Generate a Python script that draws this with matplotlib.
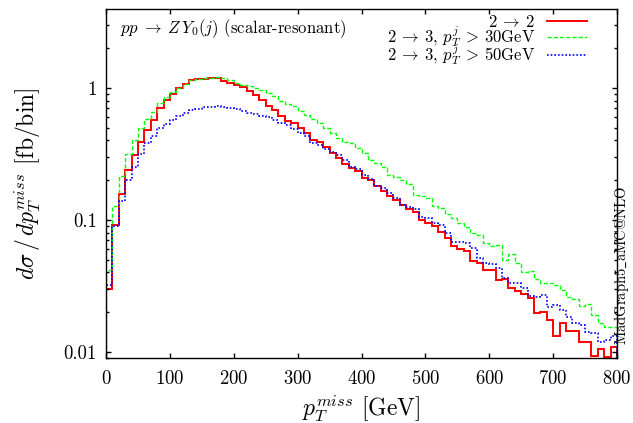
import numpy as np
import matplotlib
matplotlib.use('Agg')
import matplotlib.pyplot as plt
from matplotlib.ticker import LogLocator, NullFormatter

plt.rcParams['font.family'] = 'serif'
plt.rcParams['font.serif'] = ['cmr10', 'DejaVu Serif']
plt.rcParams['mathtext.fontset'] = 'cm'
plt.rcParams['axes.formatter.use_mathtext'] = True

# bin edges, 10 GeV bins
edges = np.arange(0, 810, 10)

# 2 -> 2
red_vals = [0.030, 0.091, 0.157, 0.239, 0.311, 0.388, 0.481, 0.572, 0.702, 0.811,
            0.901, 0.994, 1.072, 1.150, 1.163, 1.177, 1.184, 1.200, 1.137, 1.085,
            1.054, 1.012, 0.955, 0.880, 0.811, 0.731, 0.681, 0.617, 0.562, 0.540,
            0.495, 0.453, 0.404, 0.392, 0.359, 0.320, 0.293, 0.266, 0.246, 0.235,
            0.207, 0.200, 0.180, 0.165, 0.152, 0.142, 0.130, 0.121, 0.114, 0.099,
            0.094, 0.090, 0.0806, 0.0735, 0.0635, 0.0606, 0.0586, 0.0492, 0.0475, 0.0418,
            0.0418, 0.0351, 0.0355, 0.0304, 0.0291, 0.0273, 0.0255, 0.0196, 0.0201, 0.0175,
            0.0132, 0.0165, 0.0143, 0.0145, 0.0118, 0.0118, 0.0093, 0.0105, 0.0091, 0.0108]

# 2 -> 3, pTj > 30 GeV
green_vals = [0.042, 0.128, 0.217, 0.315, 0.404, 0.500, 0.579, 0.662, 0.766, 0.850,
              0.927, 1.000, 1.070, 1.140, 1.160, 1.190, 1.200, 1.215, 1.200, 1.150,
              1.100, 1.055, 1.037, 0.994, 0.966, 0.911, 0.870, 0.800, 0.750, 0.731,
              0.674, 0.624, 0.579, 0.540, 0.495, 0.459, 0.416, 0.392, 0.381, 0.349,
              0.320, 0.285, 0.272, 0.251, 0.219, 0.210, 0.199, 0.187, 0.155, 0.152,
              0.146, 0.128, 0.124, 0.110, 0.103, 0.0954, 0.089, 0.0802, 0.077, 0.0673,
              0.0635, 0.0646, 0.0498, 0.0553, 0.047, 0.0406, 0.0411, 0.0355, 0.0331, 0.0335,
              0.0322, 0.0295, 0.0262, 0.0251, 0.0223, 0.0230, 0.0191, 0.0165, 0.0154, 0.0154]

# 2 -> 3, pTj > 50 GeV
blue_vals = [0.032, 0.090, 0.138, 0.201, 0.254, 0.316, 0.381, 0.433, 0.495, 0.534,
             0.573, 0.614, 0.650, 0.680, 0.697, 0.714, 0.720, 0.725, 0.714, 0.702,
             0.690, 0.665, 0.646, 0.630, 0.614, 0.600, 0.575, 0.546, 0.524, 0.486,
             0.453, 0.435, 0.385, 0.370, 0.343, 0.329, 0.311, 0.285, 0.251, 0.242,
             0.219, 0.203, 0.181, 0.175, 0.159, 0.146, 0.130, 0.1247, 0.120, 0.106,
             0.104, 0.0955, 0.0917, 0.0802, 0.0685, 0.0685, 0.0673, 0.061, 0.0512, 0.047,
             0.0464, 0.0430, 0.0361, 0.0335, 0.0331, 0.0304, 0.0266, 0.0262, 0.0270, 0.0218,
             0.0227, 0.0206, 0.0185, 0.0165, 0.0160, 0.0141, 0.0140, 0.0118, 0.0123, 0.0132]

labels = [r'$2\:\rightarrow\:2$',
          r'$2\:\rightarrow\:3,\,p_T^j\:>\:30{\rm GeV}$',
          r'$2\:\rightarrow\:3,\,p_T^j\:>\:50{\rm GeV}$']

ymin, ymax = 0.0089, 3.97

fig = plt.figure(figsize=(6.33, 4.23), dpi=100)
ax = fig.add_axes([0.1675, 0.1525, 0.8073, 0.8262])

ax.stairs(red_vals, edges, baseline=1e-4, color='#ff0000', lw=1.4, label=labels[0])
ax.stairs(green_vals, edges, baseline=1e-4, color='#00ff00', lw=1.0,
          linestyle=(0, (3, 1.5)), label=labels[1])
ax.stairs(blue_vals, edges, baseline=1e-4, color='#0000ff', lw=1.2,
          linestyle=(0, (1, 1.2)), label=labels[2])

ax.set_yscale('log')
ax.set_xlim(0, 800)
ax.set_ylim(ymin, ymax)
ax.set_xticks(np.arange(0, 900, 100))
ax.set_yticks([0.01, 0.1, 1])
ax.set_yticklabels(['0.01', '0.1', '1'])
ax.yaxis.set_minor_locator(LogLocator(base=10, subs=np.arange(2, 10)))
ax.yaxis.set_minor_formatter(NullFormatter())
ax.tick_params(which='both', direction='in', top=True, right=True, width=1.0)
ax.tick_params(which='major', length=3.6, labelsize=13.5)
ax.tick_params(which='minor', length=2.2)
ax.tick_params(axis='x', pad=8)
ax.tick_params(axis='y', pad=6.5)
for s in ax.spines.values():
    s.set_linewidth(1.0)

ax.set_xlabel(r'$p_T^{miss}$ [GeV]', fontsize=17, labelpad=4)
ax.set_ylabel(r'$d\sigma\,/\,dp_T^{miss}$ [fb/bin]', fontsize=17)
ax.yaxis.set_label_coords(-0.123, 0.5)

ax.text(0.0274, 0.931, r'$pp\;\rightarrow\;Z\,Y_0(j)$ (scalar-resonant)',
        transform=ax.transAxes, fontsize=12, va='baseline', ha='left')

ax.legend(loc='upper right', bbox_to_anchor=(0.9413, 0.9857), frameon=False,
          fontsize=12, markerfirst=False, handlelength=2.4, handletextpad=0.72,
          labelspacing=-0.38, borderpad=0, borderaxespad=0)

fig.text(0.997, 0.1844, r'MadGraph5$\_$aMC@NLO', rotation=90, fontsize=10.5,
         ha='right', va='bottom')

fig.savefig('out.png', dpi=100)
